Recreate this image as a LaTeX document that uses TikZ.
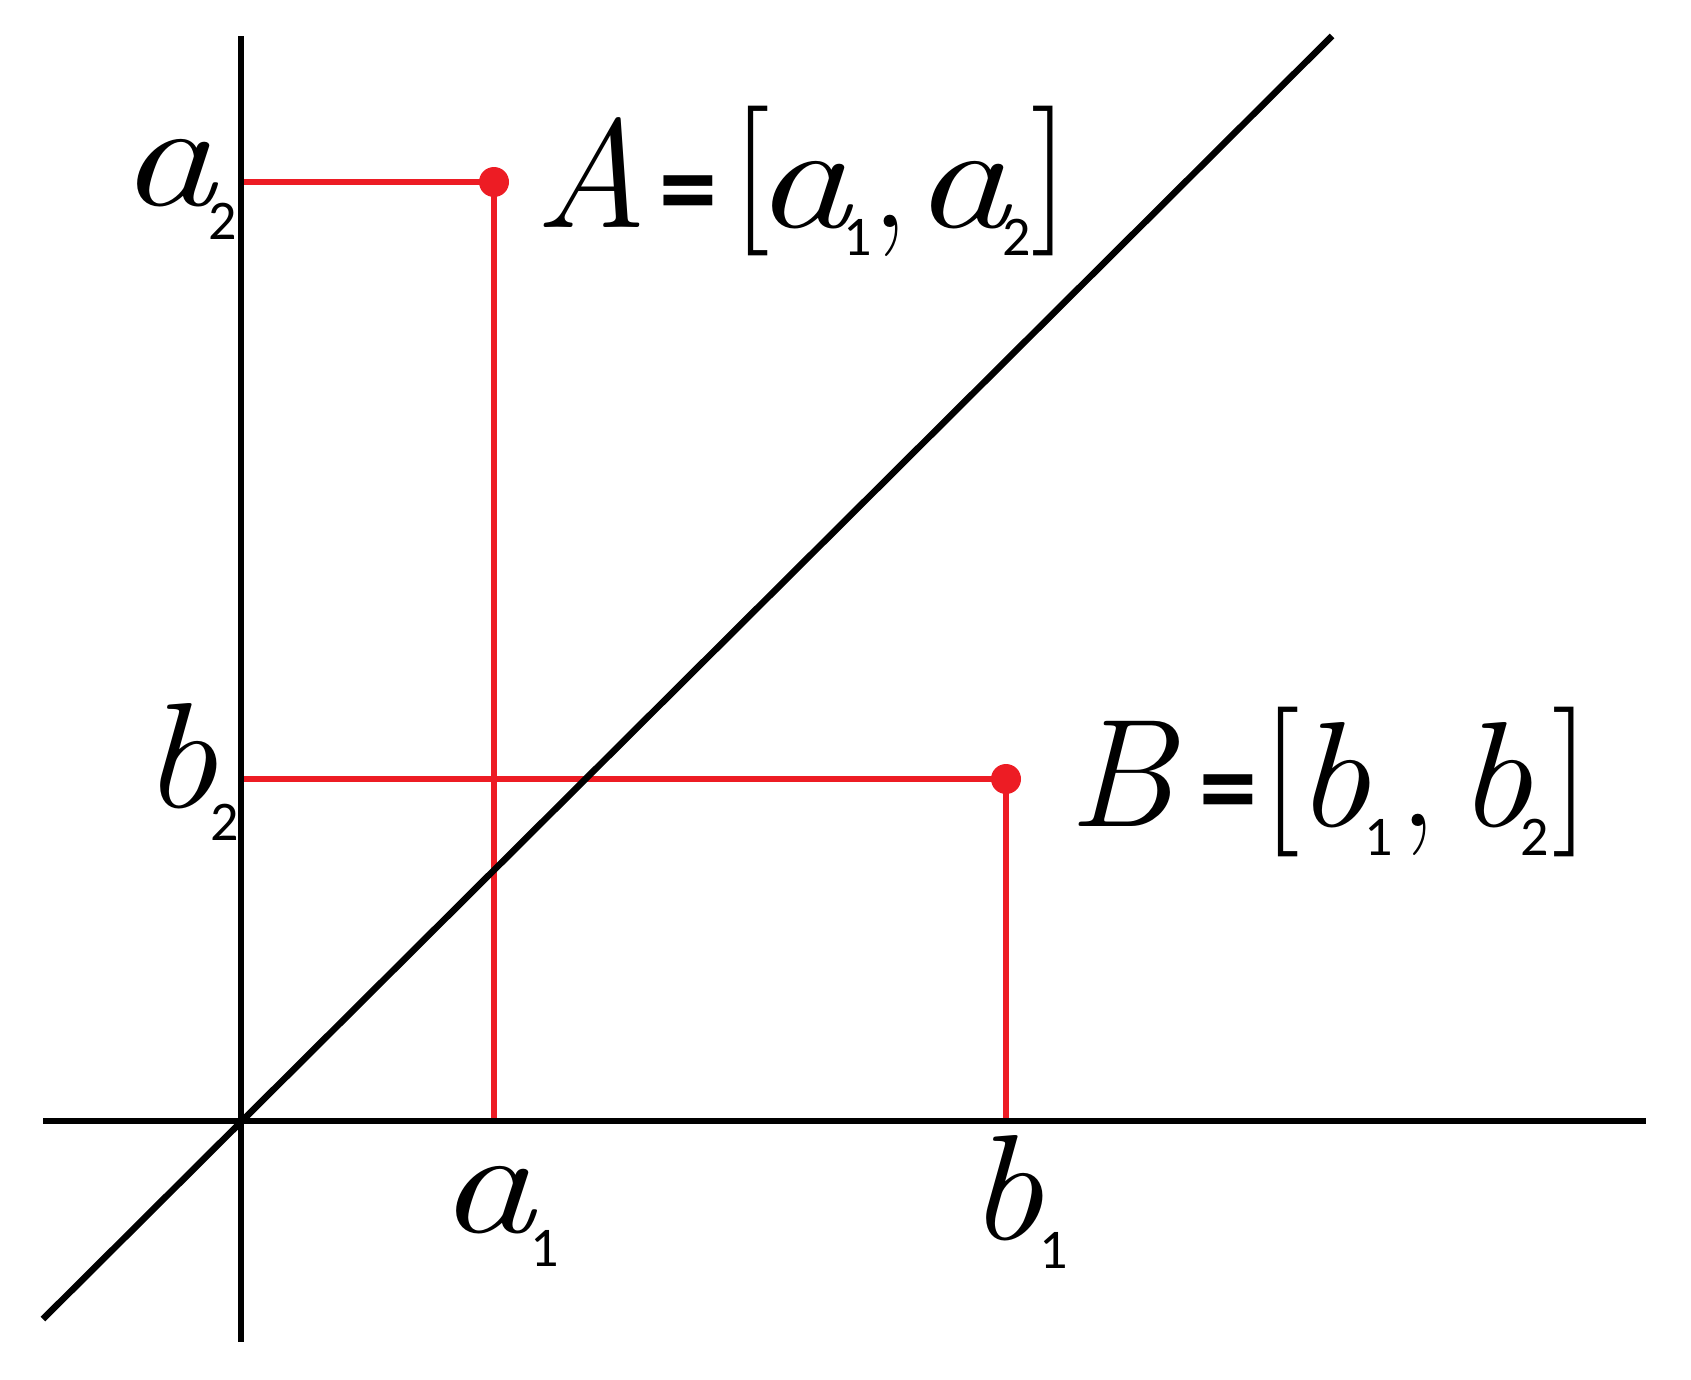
\documentclass[tikz,border=0pt]{standalone}
\usepackage{fontspec}
\usepackage{graphicx}
\setmainfont{Latin Modern Roman}
\newfontfamily\subf{Carlito}
\definecolor{ptred}{RGB}{237,28,36}
\newcommand{\pc}[3]{\makebox[0pt][l]{\hspace*{#1pt}\raisebox{#2pt}{#3}}}
\newcommand{\va}{{\fontsize{150}{150}\selectfont\itshape\scalebox{1.3}[1]{a}}}
\newcommand{\vb}{{\fontsize{150}{150}\selectfont\itshape\scalebox{1.12}[1]{b}}}
\newcommand{\VV}[1]{{\fontsize{154}{154}\selectfont\itshape #1}}
\newcommand{\sbs}[1]{{\subf\fontsize{56}{56}\selectfont #1}}
\newcommand{\eqs}{{\subf\bfseries\fontsize{116}{116}\selectfont =}}
\newcommand{\brk}[1]{{\fontsize{150}{150}\selectfont #1}}
\newcommand{\cmm}{{\fontsize{150}{150}\selectfont ,}}
\begin{document}
\begin{tikzpicture}[x=1pt,y=-1pt,
  axis/.style={line width=6.5pt,black},
  guide/.style={line width=5.5pt,ptred},
  pt/.style={circle,fill=ptred,minimum size=30pt,inner sep=0pt},
  lab/.style={anchor=base west,inner sep=0pt,outer sep=0pt}]
\path[use as bounding box] (0,0) rectangle (1691,1379);
% axes
\coordinate (O) at (241,1121);
\coordinate (ytop) at (241,36);
\coordinate (ybot) at (241,1342);
\coordinate (xl) at (43,1121);
\coordinate (xr) at (1646,1121);
\coordinate (dl) at (43,1319);
\coordinate (dr) at (1332,36);
% points
\coordinate (ya) at (241,182);
\coordinate (yb) at (241,779);
\coordinate (xa) at (494,1121);
\coordinate (xb) at (1006,1121);
\draw[guide] (ya) -- (494,182) -- (xa);
\draw[guide] (yb) -- (1006,779) -- (xb);
\draw[axis] (ytop) -- (ybot);
\draw[axis] (xl) -- (xr);
\draw[axis] (dl) -- (dr);
\node[pt] (A) at (494,182) {};
\node[pt] (B) at (1006,779) {};
% axis labels
\node[lab] (la2) at (118,205) {\pc{0}{0}{\va}\pc{90}{-34}{\sbs{2}}\hspace*{116pt}};
\node[lab] (lb2) at (141,807) {\pc{0}{0}{\vb}\pc{69}{-33}{\sbs{2}}\hspace*{92pt}};
\node[lab] (la1) at (437,1232) {\pc{0}{0}{\va}\pc{93}{-34}{\sbs{1}}\hspace*{116pt}};
\node[lab] (lb1) at (967,1239) {\pc{0}{0}{\vb}\pc{72}{-29}{\sbs{1}}\hspace*{96pt}};
% point labels
\node[lab] (Alab) at (535,227) {\pc{0}{0}{\VV{A}}\pc{124}{0}{\eqs}\pc{197}{9}{\brk{[}}\pc{218}{0}{\va}\pc{308}{-28}{\sbs{1}}\pc{336}{0}{\cmm}\pc{377}{0}{\va}\pc{467}{-28}{\sbs{2}}\pc{496}{9}{\brk{]}}\hspace*{522pt}};
\node[lab] (Blab) at (1072,826) {\pc{-4}{0}{\VV{B}}\pc{127}{0}{\eqs}\pc{190}{7}{\brk{[}}\pc{222}{0}{\vb}\pc{292}{-29}{\sbs{1}}\pc{327}{0}{\cmm}\pc{384}{0}{\vb}\pc{448}{-29}{\sbs{2}}\pc{480}{7}{\brk{]}}\hspace*{505pt}};
\end{tikzpicture}
\end{document}
